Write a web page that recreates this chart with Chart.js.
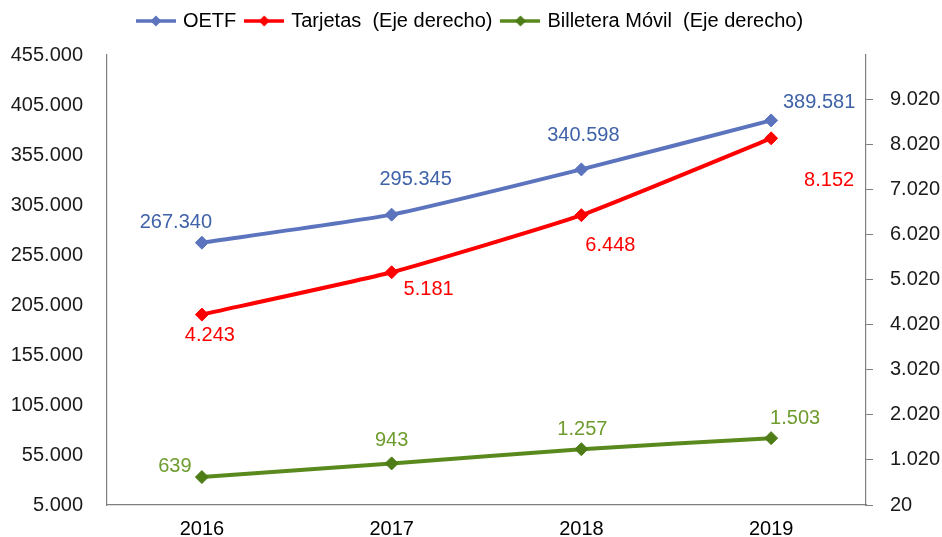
<!DOCTYPE html>
<html>
<head>
<meta charset="utf-8">
<script src="https://cdn.jsdelivr.net/npm/chart.js@4/dist/chart.umd.min.js"></script>
<style>
  html, body { margin: 0; padding: 0; background: #ffffff; overflow: hidden; }
  #wrap { position: relative; width: 942px; height: 537px; }
  #c { display: block; }
</style>
</head>
<body>
<div id="wrap"><canvas id="c"></canvas></div>
<script>
// ---- data ----
const categories = ['2016', '2017', '2018', '2019'];
const oetf = [267340, 295345, 340598, 389581];
const tarjetas = [4243, 5181, 6448, 8152];
const billetera = [639, 943, 1257, 1503];
const leftTicks = [5000, 55000, 105000, 155000, 205000, 255000, 305000, 355000, 405000, 455000];
const rightTicks = [20, 1020, 2020, 3020, 4020, 5020, 6020, 7020, 8020, 9020];
const seriesNames = ['OETF', 'Tarjetas  (Eje derecho)', 'Billetera Móvil  (Eje derecho)'];

// ---- styles ----
const FONT = 'Liberation Sans, Arial, sans-serif';
const FS = 20;
const lineColors = ['#5B74BD', '#FF0000', '#5A8A1E'];
const pointColors = ['#5B74BD', '#FF0000', '#4E7C17'];
const labelColors = ['#3F62A8', '#FF0000', '#6E9C2E'];
// data label offsets (dx, dy) relative to each point, in px
const labelOffsets = [
  [[-26, -20], [24, -35], [2, -34], [48, -18]],
  [[8, 21], [37, 17], [29, 30], [58, 42]],
  [[-27, -11], [0, -23], [1, -20], [24, -20]]
];

function fmt(n) { return String(n).replace(/\B(?=(\d{3})+(?!\d))/g, '.'); }

function legendImage(color, pcolor) {
  const cv = document.createElement('canvas');
  cv.width = 40; cv.height = 14;
  const g = cv.getContext('2d');
  g.strokeStyle = color; g.lineWidth = 3.5;
  g.beginPath(); g.moveTo(0, 7); g.lineTo(40, 7); g.stroke();
  g.fillStyle = pcolor;
  g.beginPath(); g.moveTo(20, 1.5); g.lineTo(25.5, 7); g.lineTo(20, 12.5); g.lineTo(14.5, 7); g.closePath(); g.fill();
  return cv;
}
const legendImgs = lineColors.map((c, i) => legendImage(c, pointColors[i]));

const legendGap = {
  id: 'legendGap',
  beforeLayout(chart) {
    const lg = chart.legend;
    if (lg && !lg._gapPatched) {
      const f = lg.fit.bind(lg);
      lg.fit = function () { f(); this.height += 14; };
      lg._gapPatched = true;
    }
  }
};

const dataLabels = {
  id: 'dataLabels',
  afterDatasetsDraw(chart) {
    const ctx = chart.ctx;
    ctx.save();
    ctx.font = FS + 'px ' + FONT;
    ctx.textAlign = 'center';
    ctx.textBaseline = 'middle';
    chart.data.datasets.forEach((ds, i) => {
      const meta = chart.getDatasetMeta(i);
      ctx.fillStyle = labelColors[i];
      meta.data.forEach((pt, j) => {
        const off = labelOffsets[i][j];
        ctx.fillText(fmt(ds.data[j]), pt.x + off[0], pt.y + off[1]);
      });
    });
    ctx.restore();
  }
};

const ds = (label, data, i, axis) => ({
  label, data, yAxisID: axis,
  borderColor: lineColors[i], backgroundColor: pointColors[i],
  pointBackgroundColor: pointColors[i], pointBorderColor: pointColors[i],
  borderWidth: 4, pointStyle: 'rectRot', pointRadius: 6.5, pointBorderWidth: 1,
  tension: 0.15, fill: false
});

new Chart(document.getElementById('c'), {
  type: 'line',
  data: {
    labels: categories,
    datasets: [
      ds(seriesNames[0], oetf, 0, 'yL'),
      ds(seriesNames[1], tarjetas, 1, 'yR'),
      ds(seriesNames[2], billetera, 2, 'yR')
    ]
  },
  options: {
    responsive: true,
    maintainAspectRatio: false,
    animation: false,
    events: [],
    layout: { padding: 0 },
    plugins: {
      tooltip: { enabled: false },
      legend: {
        position: 'top',
        labels: {
          usePointStyle: true,
          pointStyleWidth: 34,
          padding: 11,
          color: '#000000',
          font: { family: FONT, size: FS },
          generateLabels(chart) {
            return chart.data.datasets.map((d, i) => ({
              text: d.label, pointStyle: legendImgs[i], fillStyle: lineColors[i],
              strokeStyle: lineColors[i], lineWidth: 0, hidden: false, datasetIndex: i, fontColor: '#000000'
            }));
          }
        }
      }
    },
    scales: {
      x: {
        offset: true,
        grid: { display: false, drawTicks: false },
        border: { display: true, color: '#7F7F7F', width: 1.2 },
        ticks: { color: '#000000', font: { family: FONT, size: FS }, padding: 12, maxRotation: 0 },
        afterFit(s) { s.height = 32; }
      },
      yL: {
        position: 'left',
        min: 5000, max: 455000,
        grid: { display: false, drawTicks: false },
        border: { display: true, color: '#7F7F7F', width: 1.2 },
        ticks: { color: '#1a1a1a', font: { family: FONT, size: FS }, padding: 24, callback: v => fmt(v) },
        afterBuildTicks(s) { s.ticks = leftTicks.map(v => ({ value: v })); },
        afterFit(s) { s.width = 107; s.paddingTop = 0; s.paddingBottom = 0; }
      },
      yR: {
        position: 'right',
        min: 20, max: 10000,
        grid: { display: true, drawOnChartArea: false, drawTicks: true, tickLength: 7, color: '#7F7F7F' },
        border: { display: true, color: '#7F7F7F', width: 1.2 },
        ticks: { color: '#1a1a1a', font: { family: FONT, size: FS }, padding: 17, callback: v => fmt(v) },
        afterBuildTicks(s) { s.ticks = rightTicks.map(v => ({ value: v })); },
        afterFit(s) { s.width = 76; s.paddingTop = 0; s.paddingBottom = 0; }
      }
    }
  },
  plugins: [legendGap, dataLabels]
});
</script>
</body>
</html>
